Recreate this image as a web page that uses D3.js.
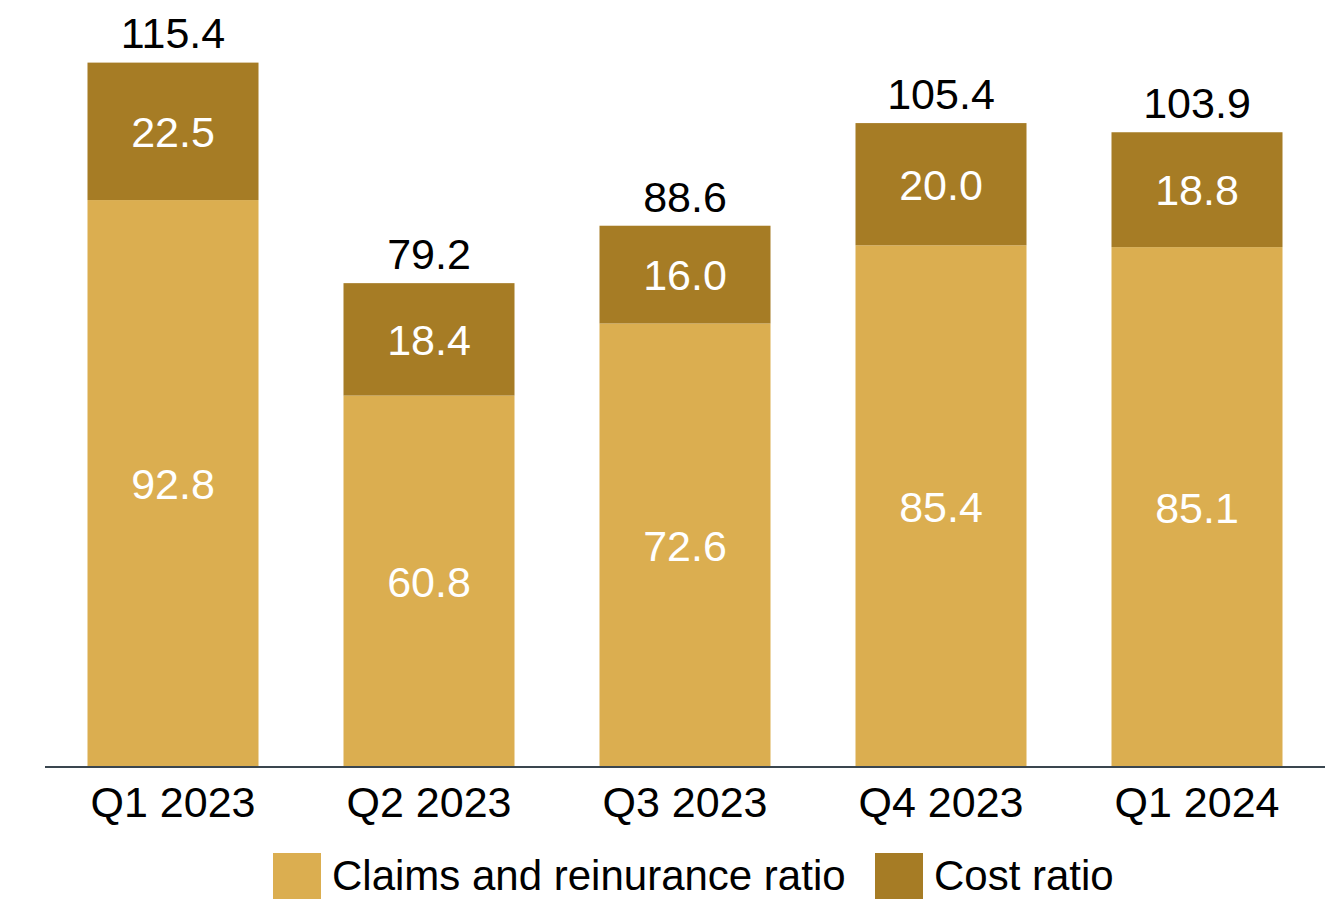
<!DOCTYPE html>
<html>
<head>
<meta charset="utf-8">
<script src="https://cdn.jsdelivr.net/npm/d3@7"></script>
<style>
  html, body { margin: 0; padding: 0; background: #fff; }
  svg { display: block; font-family: "Liberation Sans", Arial, sans-serif; }
</style>
</head>
<body>
<svg id="chart" width="1342" height="899"></svg>
<script>
const categories = ["Q1 2023", "Q2 2023", "Q3 2023", "Q4 2023", "Q1 2024"];
const claimsRatio = [92.8, 60.8, 72.6, 85.4, 85.1];
const costRatio = [22.5, 18.4, 16.0, 20.0, 18.8];
const totals = [115.4, 79.2, 88.6, 105.4, 103.9];
const seriesNames = ["Claims and reinurance ratio", "Cost ratio"];
const colors = ["#DBAE50", "#A67C25"];

const svg = d3.select("#chart");
const baseY = 767, topY = 62;
const FS = 43;

const x = d3.scaleBand().domain(categories).range([45, 1325])
  .paddingInner(0.332).paddingOuter(0.166);
const y = d3.scaleLinear().domain([0, d3.max(totals)]).range([baseY, topY]);

const rows = categories.map((c, i) => ({ cat: c, claims: claimsRatio[i], cost: costRatio[i], total: totals[i] }));
const stack = d3.stack().keys(["claims", "cost"]);
const stacked = stack(rows);

const g = svg.append("g");
stacked.forEach((layer, li) => {
  const lg = g.append("g");
  lg.selectAll("rect").data(layer).join("rect")
    .attr("x", d => x(d.data.cat))
    .attr("width", x.bandwidth())
    .attr("y", d => y(d[1]))
    .attr("height", d => y(d[0]) - y(d[1]))
    .attr("fill", colors[li]);
  lg.selectAll("text").data(layer).join("text")
    .attr("x", d => x(d.data.cat) + x.bandwidth() / 2)
    .attr("y", d => (y(d[0]) + y(d[1])) / 2)
    .attr("dy", "0.36em")
    .attr("text-anchor", "middle")
    .attr("fill", "#fff")
    .attr("font-size", FS)
    .text(d => (d[1] - d[0]).toFixed(1));
});

// totals
g.selectAll("text.total").data(rows).join("text")
  .attr("class", "total")
  .attr("x", d => x(d.cat) + x.bandwidth() / 2)
  .attr("y", d => y(d.total) - 14)
  .attr("text-anchor", "middle")
  .attr("fill", "#000")
  .attr("font-size", FS)
  .text(d => d.total.toFixed(1));

// x axis
const xAxis = svg.append("g").attr("transform", `translate(0,${baseY})`)
  .call(d3.axisBottom(x).tickSize(0).tickPadding(0));
xAxis.select(".domain").attr("stroke", "#3A464F").attr("stroke-width", 2)
  .attr("d", "M45,0H1325");
xAxis.selectAll(".tick text")
  .attr("font-size", FS)
  .attr("font-family", "Liberation Sans, Arial, sans-serif")
  .attr("fill", "#000")
  .attr("dy", 0)
  .attr("y", 50);

// legend
const legend = svg.append("g");
const legendItems = [
  { name: seriesNames[0], color: colors[0], x: 273 },
  { name: seriesNames[1], color: colors[1], x: 875 }
];
legendItems.forEach(it => {
  legend.append("rect").attr("x", it.x).attr("y", 853).attr("width", 48).attr("height", 46).attr("fill", it.color);
  legend.append("text").attr("x", it.x + 59).attr("y", 890)
    .attr("font-size", 42).attr("fill", "#000").text(it.name);
});
</script>
</body>
</html>
